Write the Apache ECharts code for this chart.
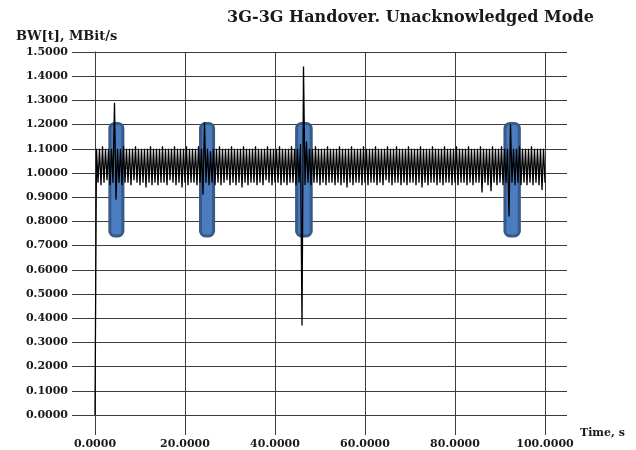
<!DOCTYPE html>
<html>
<head>
<meta charset="utf-8">
<script src="https://cdn.jsdelivr.net/npm/echarts@6/dist/echarts.min.js"></script>
<style>
  html, body {margin: 0; padding: 0; background: #fff;}
  #chart {width: 636px; height: 450px;}
</style>
</head>
<body>
<div id="chart"></div>
<script>
// bandwidth samples, one every sampleStep seconds starting at t = 0
const sampleStep = 1 / 3
const bwValues = [
  0.00,
  1.10, 0.96, 1.10, 0.95, 1.11, 0.96, 1.10, 0.97, 1.10, 0.95, 1.10, 0.96, 1.29, 0.89, 1.10, 0.96, 1.10, 0.95, 1.11, 0.96,
  1.10, 0.96, 1.10, 0.95, 1.10, 0.97, 1.11, 0.96, 1.10, 0.95, 1.10, 0.96, 1.10, 0.94, 1.10, 0.96, 1.11, 0.95, 1.10, 0.96,
  1.10, 0.95, 1.10, 0.96, 1.11, 0.96, 1.10, 0.95, 1.10, 0.97, 1.10, 0.96, 1.11, 0.95, 1.10, 0.96, 1.10, 0.94, 1.10, 0.96,
  1.11, 0.95, 1.10, 0.96, 1.10, 0.96, 1.10, 0.95, 1.11, 0.96, 1.10, 0.91, 1.21, 0.96, 1.10, 0.95, 1.09, 0.96, 1.10, 0.95,
  1.10, 0.96, 1.11, 0.95, 1.10, 0.96, 1.10, 0.97, 1.10, 0.95, 1.11, 0.96, 1.10, 0.95, 1.10, 0.96, 1.10, 0.94, 1.11, 0.96,
  1.10, 0.95, 1.10, 0.96, 1.10, 0.96, 1.11, 0.95, 1.10, 0.96, 1.10, 0.95, 1.10, 0.97, 1.11, 0.96, 1.10, 0.95, 1.10, 0.96,
  1.10, 0.96, 1.11, 0.95, 1.10, 0.96, 1.10, 0.95, 1.10, 0.96, 1.11, 0.96, 1.10, 0.95, 1.10, 0.96, 1.12, 0.37, 1.44, 0.95,
  1.13, 0.96, 1.10, 0.95, 1.10, 0.96, 1.11, 0.96, 1.10, 0.95, 1.10, 0.96, 1.10, 0.95, 1.11, 0.96, 1.10, 0.96, 1.10, 0.95,
  1.10, 0.96, 1.11, 0.95, 1.10, 0.96, 1.10, 0.94, 1.10, 0.96, 1.11, 0.95, 1.10, 0.96, 1.10, 0.96, 1.10, 0.95, 1.11, 0.96,
  1.10, 0.95, 1.10, 0.96, 1.10, 0.96, 1.11, 0.95, 1.10, 0.96, 1.10, 0.95, 1.10, 0.97, 1.11, 0.96, 1.10, 0.95, 1.10, 0.96,
  1.11, 0.96, 1.10, 0.95, 1.10, 0.96, 1.10, 0.95, 1.11, 0.96, 1.10, 0.96, 1.10, 0.95, 1.10, 0.96, 1.11, 0.94, 1.10, 0.96,
  1.10, 0.95, 1.10, 0.96, 1.11, 0.96, 1.10, 0.95, 1.10, 0.96, 1.10, 0.95, 1.11, 0.96, 1.10, 0.96, 1.10, 0.95, 1.10, 0.96,
  1.11, 0.95, 1.10, 0.96, 1.10, 0.96, 1.10, 0.95, 1.11, 0.96, 1.10, 0.95, 1.10, 0.96, 1.10, 0.96, 1.11, 0.92, 1.10, 0.96,
  1.10, 0.95, 1.10, 0.925, 1.11, 0.96, 1.10, 0.95, 1.10, 0.96, 1.11, 0.95, 1.10, 0.96, 1.10, 0.82, 1.20, 0.96, 1.10, 0.95,
  1.10, 0.96, 1.11, 0.95, 1.10, 0.96, 1.10, 0.95, 1.10, 0.96, 1.11, 0.95, 1.10, 0.96, 1.10, 0.95, 1.10, 0.93, 1.10, 0.96
]

// handover markers (time span and bandwidth span)
const handoverStart = [3.3, 23.45, 44.8, 91.1]
const handoverEnd = [6.2, 26.35, 48.05, 94.3]
const handoverLow = 0.74
const handoverHigh = 1.205

const xTicks = [0, 20, 40, 60, 80, 100]
const yMin = 0
const yMax = 1.5

const font = '"DejaVu Serif", serif'
const gridColor = '#3c3c3c'
const textColor = '#1a1a1a'

const bwSeries = bwValues.map((v, i) => [i * sampleStep, v])
const handovers = handoverStart.map((s, i) => [s, handoverEnd[i], handoverLow, handoverHigh])

const chart = echarts.init(document.getElementById('chart'))

chart.setOption({
  animation: false,
  title: [{
    text: '3G-3G Handover. Unacknowledged Mode',
    left: 222,
    top: 5,
    textStyle: {fontFamily: font, fontSize: 16, fontWeight: 'bold', color: textColor}
  }, {
    text: 'BW[t], MBit/s',
    left: 11,
    top: 25,
    textStyle: {fontFamily: font, fontSize: 13, fontWeight: 'bold', color: textColor}
  }],
  grid: {left: 95, right: 91, top: 52, bottom: 35},
  xAxis: {
    type: 'value',
    min: xTicks[0],
    max: xTicks[xTicks.length - 1],
    interval: 20,
    name: 'Time, s',
    nameLocation: 'end',
    nameGap: 35,
    nameTextStyle: {
      fontFamily: font, fontSize: 11, fontWeight: 'bold', color: textColor,
      verticalAlign: 'top', padding: [13, 0, 0, 0]
    },
    axisLine: {show: true, lineStyle: {color: gridColor, width: 1}},
    axisTick: {show: true, length: 20, lineStyle: {color: gridColor, width: 1}},
    axisLabel: {
      margin: 24,
      fontFamily: font, fontSize: 11, fontWeight: 'bold', color: textColor,
      formatter: v => v.toFixed(4)
    },
    splitLine: {show: true, lineStyle: {color: gridColor, width: 1}}
  },
  yAxis: [{
    type: 'value',
    min: yMin,
    max: yMax,
    interval: 0.1,
    axisLine: {show: true, lineStyle: {color: gridColor, width: 1}},
    axisTick: {show: true, length: 23, lineStyle: {color: gridColor, width: 1}},
    axisLabel: {
      margin: 27,
      fontFamily: font, fontSize: 11, fontWeight: 'bold', color: textColor,
      formatter: v => v.toFixed(4)
    },
    splitLine: {show: true, lineStyle: {color: gridColor, width: 1}}
  }, {
    type: 'value',
    position: 'right',
    min: yMin,
    max: yMax,
    interval: 0.1,
    axisLine: {show: false},
    axisTick: {show: true, length: 22, lineStyle: {color: gridColor, width: 1}},
    axisLabel: {show: false},
    splitLine: {show: false}
  }],
  series: [{
    type: 'custom',
    z: 1,
    data: handovers,
    encode: {x: [0, 1], y: [2, 3]},
    renderItem: (params, api) => {
      const p0 = api.coord([api.value(0), api.value(3)])
      const p1 = api.coord([api.value(1), api.value(2)])
      return {
        type: 'rect',
        shape: {x: p0[0], y: p0[1], width: p1[0] - p0[0], height: p1[1] - p0[1], r: 5},
        style: {fill: '#4a7cbf', stroke: '#385a86', lineWidth: 3}
      }
    }
  }, {
    type: 'line',
    z: 3,
    data: bwSeries,
    showSymbol: false,
    symbol: 'none',
    lineStyle: {color: '#000', width: 1.3},
    clip: false
  }]
})
</script>
</body>
</html>
